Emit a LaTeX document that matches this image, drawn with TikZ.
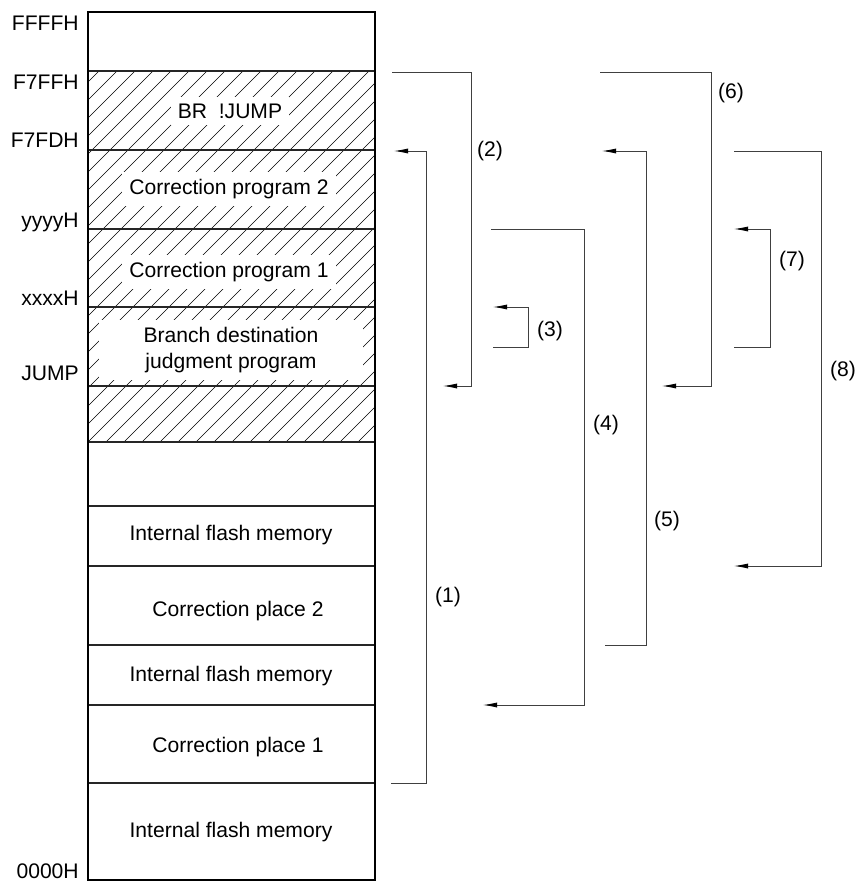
\documentclass[tikz,border=0pt]{standalone}
\usepackage{fontspec}
\setmainfont{Liberation Sans}
\usetikzlibrary{arrows.meta}

\tikzset{
  lab/.style={font=\fontsize{15}{18}\selectfont},
  addr/.style={lab,anchor=base east,inner sep=0pt},
  memtext/.style={lab,fill=white,inner sep=5pt},
  jmp/.style={draw=black!75,line width=0.6pt,-{Latex[length=10pt,width=3.6pt,color=black]}},
  hatch/.style={line width=0.4pt},
  band/.style={line width=0.8pt,draw=black!85},
}

\begin{document}
\begin{tikzpicture}[x=0.025cm,y=-0.025cm]
\useasboundingbox (0,0) rectangle (858,882);

% hatched part of the map
\begin{scope}
  \clip (88,71) rectangle (375,442);
  \foreach \x in {-290,-272,...,380}
    \draw[hatch] (\x,442) -- ++(371,-371);
\end{scope}

% region texts
\node[memtext] (brjump) at (230,111) {BR\ \ !JUMP};
\node[memtext] (prog2) at (229,189) {Correction program 2};
\node[memtext] (prog1) at (229,272) {Correction program 1};
\node[memtext,align=center,minimum width=6.6cm,minimum height=1.3cm] (judge) at (231,350)
  {Branch destination\\judgment program};
\node[lab] (flash3) at (231,535) {Internal flash memory};
\node[lab] (place2) at (238,611) {Correction place 2};
\node[lab] (flash2) at (231,676) {Internal flash memory};
\node[lab] (place1) at (238,747) {Correction place 1};
\node[lab] (flash1) at (231,832) {Internal flash memory};

% borders
\foreach \y in {71,150,229,307,386,442,506,566,645,705,783}
  \draw[band] (88,\y) -- (375,\y);
\draw[line width=1.5pt] (88,12) rectangle (375,880);

% addresses
\node[addr] (aFFFF) at (79,30) {FFFFH};
\node[addr] (aF7FF) at (79,89) {F7FFH};
\node[addr] (aF7FD) at (79,147) {F7FDH};
\node[addr] (ayyyy) at (79,227) {yyyyH};
\node[addr] (axxxx) at (79,305) {xxxxH};
\node[addr] (ajump) at (79,380) {JUMP};
\node[addr] (a0000) at (79,878) {0000H};

% jumps
\coordinate (s1) at (391,783); \coordinate (e1) at (394,151);
\coordinate (s2) at (392,72);  \coordinate (e2) at (443,386);
\coordinate (s3) at (493,347); \coordinate (e3) at (493,307);
\coordinate (s4) at (491,229); \coordinate (e4) at (483,705);
\coordinate (s5) at (605,645); \coordinate (e5) at (602,151);
\coordinate (s6) at (600,72);  \coordinate (e6) at (662,386);
\coordinate (s7) at (734,347); \coordinate (e7) at (734,229);
\coordinate (s8) at (734,151); \coordinate (e8) at (734,566);
\draw[jmp] (s1) -- ++(35,0) |- (e1);
\draw[jmp] (s2) -- ++(79,0) |- (e2);
\draw[jmp] (s3) -- ++(35,0) |- (e3);
\draw[jmp] (s4) -- ++(93,0) |- (e4);
\draw[jmp] (s5) -- ++(41,0) |- (e5);
\draw[jmp] (s6) -- ++(111,0) |- (e6);
\draw[jmp] (s7) -- ++(36,0) |- (e7);
\draw[jmp] (s8) -- ++(87,0) |- (e8);

\foreach \n/\x/\y in {1/448/597,2/490/151,3/550/331,4/606/425,5/667/521,6/731/93,7/792/261,8/843/371}
  \node[lab] (l\n) at (\x,\y) {(\n)};
\end{tikzpicture}
\end{document}
